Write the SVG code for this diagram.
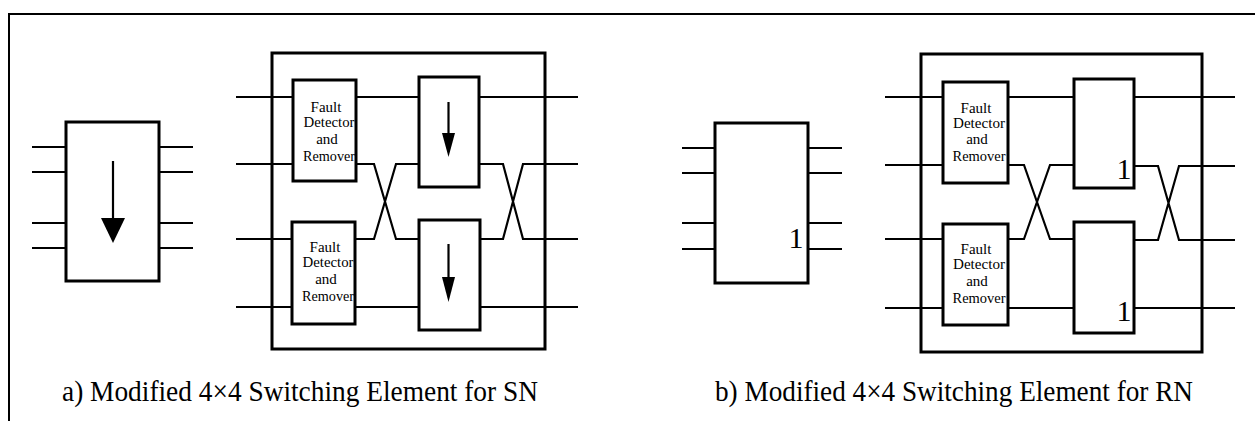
<svg xmlns="http://www.w3.org/2000/svg" width="1255" height="421" viewBox="0 0 1255 421">
<style>
.box{fill:#fff;stroke:#000;stroke-width:3}
.frame{fill:none;stroke:#000;stroke-width:2}
.w{fill:none;stroke:#000;stroke-width:2.2;stroke-linejoin:miter}
.fdr{font-family:"Liberation Serif","Times New Roman",serif;font-size:15px;fill:#000;text-anchor:middle}
.one{font-family:"Liberation Serif","Times New Roman",serif;font-size:30px;fill:#000;text-anchor:middle}
.cap{font-family:"Liberation Serif","Times New Roman",serif;font-size:29px;fill:#000}
.arr{fill:#000;stroke:none}
.sh{stroke:#000;stroke-width:2.2}
</style>
<rect width="1255" height="421" fill="#fff"/>
<path class="frame" d="M9,421 V14 H1255"/>

<g id="connectors">
  <path class="w" d="M32,147H66M32,172H66M32,223H66M32,248H66M159,147H193M159,172H193M159,223H193M159,248H193"/>
  <path class="w" d="M236,97H293M236,164H293M236,239H292M236,307H292"/>
  <path class="w" d="M356,97H419M356,164H374L396,239H419M355,239H374L396,164H419M355,307H419"/>
  <path class="w" d="M479,97H578M479,164H503L523,239H578M480,239H503L523,164H578M480,307H578"/>
  <path class="w" d="M682,148H715M682,173H715M682,223H715M682,249H715M808,148H842M808,173H842M808,223H842M808,249H842"/>
  <path class="w" d="M885,97H943M885,165H943M885,239H943M885,308H943"/>
  <path class="w" d="M1008,97H1074M1008,165H1024L1050,239H1074M1008,239H1024L1050,165H1074M1008,308H1074"/>
  <path class="w" d="M1134,97H1235M1134,166H1158L1179,240H1235M1134,240H1158L1179,166H1235M1134,308H1235"/>
</g>

<g id="se-a-small">
  <rect class="box" x="66" y="122" width="93" height="159"/>
  <line class="sh" x1="113" y1="161" x2="113" y2="225"/>
  <polygon class="arr" points="101,218 125,218 113,243"/>
</g>

<g id="se-a-big">
  <rect class="box" x="272" y="53" width="273" height="296" style="fill:none"/>
</g>

<g id="fdr-a-top">
  <rect class="box" x="293" y="80" width="63" height="101"/>
  <text class="fdr" x="326" y="112">Fault</text>
  <text class="fdr" x="329" y="127" textLength="51" lengthAdjust="spacingAndGlyphs">Detector</text>
  <text class="fdr" x="327" y="144">and</text>
  <text class="fdr" x="329" y="161" textLength="52" lengthAdjust="spacingAndGlyphs">Remover</text>
</g>
<g id="fdr-a-bottom">
  <rect class="box" x="292" y="222" width="63" height="102"/>
  <text class="fdr" x="325" y="252">Fault</text>
  <text class="fdr" x="328" y="267" textLength="51" lengthAdjust="spacingAndGlyphs">Detector</text>
  <text class="fdr" x="326" y="284">and</text>
  <text class="fdr" x="328" y="301" textLength="52" lengthAdjust="spacingAndGlyphs">Remover</text>
</g>
<g id="sw-a-top">
  <rect class="box" x="419" y="77" width="60" height="110"/>
  <line class="sh" x1="448.5" y1="102" x2="448.5" y2="140"/>
  <polygon class="arr" points="442,133 455,133 448.5,157"/>
</g>
<g id="sw-a-bottom">
  <rect class="box" x="419" y="220" width="61" height="110"/>
  <line class="sh" x1="448.5" y1="244" x2="448.5" y2="285"/>
  <polygon class="arr" points="442,277 455,277 448.5,302"/>
</g>

<g id="se-b-small">
  <rect class="box" x="715" y="123" width="93" height="160"/>
  <text class="one" x="796" y="248">1</text>
</g>
<g id="se-b-big">
  <rect class="box" x="921" y="54" width="281" height="298" style="fill:none"/>
</g>
<g id="fdr-b-top">
  <rect class="box" x="943" y="82" width="65" height="101"/>
  <text class="fdr" x="976" y="113">Fault</text>
  <text class="fdr" x="979" y="128" textLength="52" lengthAdjust="spacingAndGlyphs">Detector</text>
  <text class="fdr" x="977" y="144">and</text>
  <text class="fdr" x="979" y="161" textLength="53" lengthAdjust="spacingAndGlyphs">Remover</text>
</g>
<g id="fdr-b-bottom">
  <rect class="box" x="943" y="224" width="65" height="101"/>
  <text class="fdr" x="976" y="254">Fault</text>
  <text class="fdr" x="979" y="269" textLength="52" lengthAdjust="spacingAndGlyphs">Detector</text>
  <text class="fdr" x="977" y="286">and</text>
  <text class="fdr" x="979" y="303" textLength="53" lengthAdjust="spacingAndGlyphs">Remover</text>
</g>
<g id="sw-b-top">
  <rect class="box" x="1074" y="79" width="60" height="109"/>
  <text class="one" x="1124" y="179">1</text>
</g>
<g id="sw-b-bottom">
  <rect class="box" x="1074" y="222" width="60" height="111"/>
  <text class="one" x="1124" y="321">1</text>
</g>

<g id="captions">
  <text class="cap" x="62" y="401" textLength="476" lengthAdjust="spacingAndGlyphs">a) Modified 4×4 Switching Element for SN</text>
  <text class="cap" x="715" y="401" textLength="478" lengthAdjust="spacingAndGlyphs">b) Modified 4×4 Switching Element for RN</text>
</g>
</svg>
